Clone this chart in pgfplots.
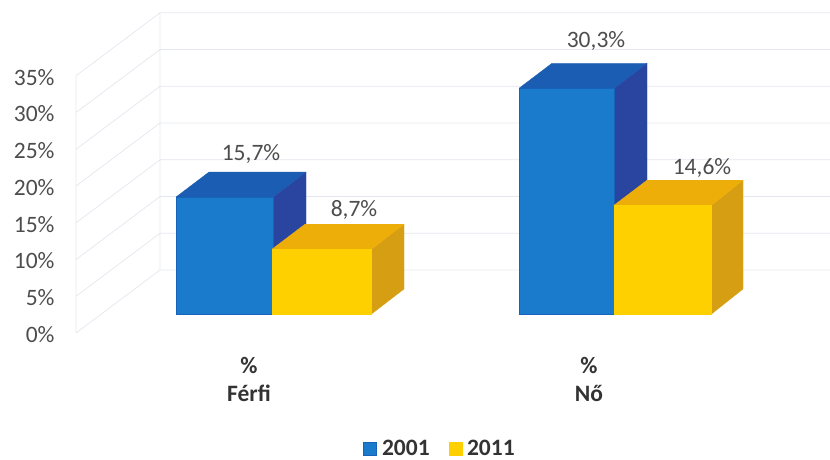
\documentclass[border=0pt]{standalone}
\usepackage{fontspec}
\setmainfont{Carlito}
\usepackage{pgfplots}
\pgfplotsset{compat=1.18}

\definecolor{blueF}{HTML}{1A7ACC}
\definecolor{blueT}{HTML}{1B5DB2}
\definecolor{blueS}{HTML}{2A459F}
\definecolor{blueE}{HTML}{1763B8}
\definecolor{yelF}{HTML}{FFD000}
\definecolor{yelT}{HTML}{EEAE0A}
\definecolor{yelS}{HTML}{D69E12}
\definecolor{wallc}{HTML}{E4E7EF}
\definecolor{txt}{HTML}{4D4D4D}

\newcommand{\fnt}{\fontsize{23.5}{28}\selectfont}

% depth of the 3d look: 33 px across, 25 px up (3.36 in % units)
\pgfplotsset{
  base/.style={
    scale only axis, at={(0pt,0pt)}, anchor=south west,
    width=830pt, height=345pt, xmin=0, xmax=830, clip=false,
    axis line style={draw=none}, major tick length=0pt,
  },
  side/.style={forget plot, fill=#1, draw=#1, line width=0.3pt},
}

\begin{document}
\begin{tikzpicture}
\path[use as bounding box] (0pt,-114pt) rectangle (830pt,345pt);

% walls and percent scale
\begin{axis}[base,
    ymin=-1.63, ymax=45.31,
    xtick=\empty, ytick={0,5,...,35},
    yticklabel={\pgfmathprintnumber{\tick}\%},
    /pgf/number format/assume math mode=true,
    yticklabel style={font=\fnt, text=txt, anchor=east, xshift=58pt, yshift=-1.5pt},
  ]
  \addplot[wallc, line width=0.7pt, empty line=jump] table {
x y
76 0
160 8.57
830 8.57

76 5
160 13.57
830 13.57

76 10
160 18.57
830 18.57

76 15
160 23.57
830 23.57

76 20
160 28.57
830 28.57

76 25
160 33.57
830 33.57

76 30
160 38.57
830 38.57

76 35
160 43.57
830 43.57

76 0
76 35

160 8.57
160 43.57
};
\end{axis}

% bars
\begin{axis}[base,
    ymin=-4.16, ymax=42.15, ytick=\empty,
    xtick={249,589},
    xticklabels={{\%\\Férfi},{\%\\Nő}},
    xticklabel style={font=\fnt\bfseries, text=black!80, align=center, yshift=-9pt},
    legend columns=2,
    legend style={at={(0.532,-0.301)}, anchor=center, draw=none, fill=none,
      font=\fnt\bfseries, text=black!80,
      nodes={inner xsep=5pt, inner ysep=0pt},
      /tikz/every even column/.append style={column sep=14pt}},
    legend image code/.code={
      \draw[#1] (0pt,-6.5pt) rectangle (13pt,6.5pt);
    },
    legend cell align=left,
  ]
  % Ferfi 2001
  \addplot[side=blueS] coordinates {(273,0) (306,3.36) (306,19.06) (273,15.7)} --cycle;
  \addplot[side=blueT] coordinates {(176,15.7) (209,19.06) (306,19.06) (273,15.7)} --cycle;
  \addplot[ybar, bar width=97pt, bar shift=0pt, fill=blueF, draw=blueE, line width=0.6pt]
    coordinates {(224.5,15.7)};
  \addlegendentry{2001}
  % Ferfi 2011
  \addplot[side=yelS] coordinates {(371.5,0) (404,3.36) (404,12.06) (371.5,8.7)} --cycle;
  \addplot[side=yelT] coordinates {(272,8.7) (305,12.06) (404,12.06) (371.5,8.7)} --cycle;
  \addplot[ybar, bar width=99.5pt, bar shift=0pt, fill=yelF, draw=yelF, line width=0.3pt]
    coordinates {(321.75,8.7)};
  \addlegendentry{2011}
  % No 2001
  \addplot[side=blueS] coordinates {(614,0) (647,3.36) (647,33.66) (614,30.3)} --cycle;
  \addplot[side=blueT] coordinates {(519,30.3) (552,33.66) (647,33.66) (614,30.3)} --cycle;
  \addplot[ybar, bar width=95pt, bar shift=0pt, fill=blueF, draw=blueE, line width=0.6pt, forget plot]
    coordinates {(566.5,30.3)};
  % No 2011
  \addplot[side=yelS] coordinates {(711.5,0) (743,3.36) (743,17.96) (711.5,14.6)} --cycle;
  \addplot[side=yelT] coordinates {(614,14.6) (647,17.96) (743,17.96) (711.5,14.6)} --cycle;
  \addplot[ybar, bar width=97.5pt, bar shift=0pt, fill=yelF, draw=yelF, line width=0.3pt, forget plot]
    coordinates {(662.75,14.6)};

  \node[font=\fnt, text=txt] at (axis cs:251,21.5) {15,7\%};
  \node[font=\fnt, text=txt] at (axis cs:354,14.0) {8,7\%};
  \node[font=\fnt, text=txt] at (axis cs:596,36.6) {30,3\%};
  \node[font=\fnt, text=txt] at (axis cs:702,19.6) {14,6\%};
\end{axis}
\end{tikzpicture}
\end{document}
